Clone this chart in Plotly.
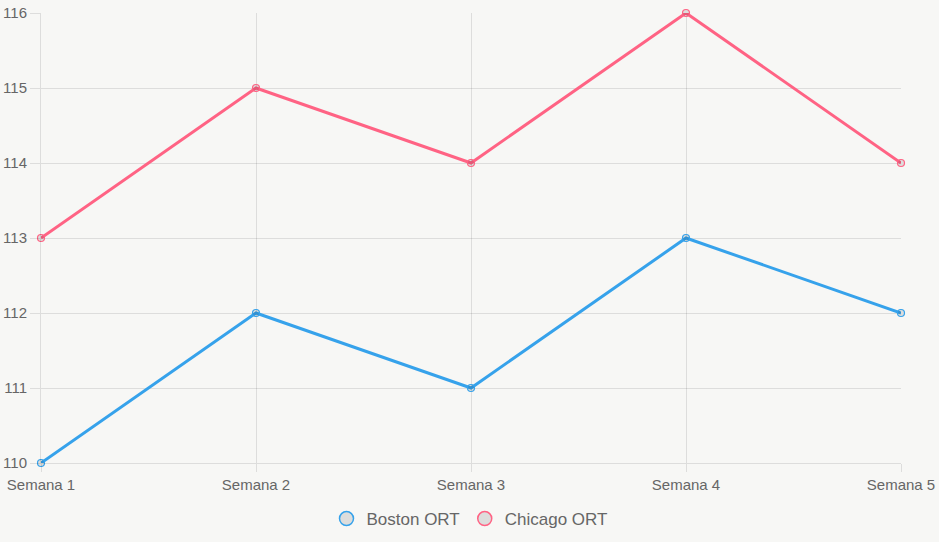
import plotly.graph_objects as go

categories = ["Semana 1", "Semana 2", "Semana 3", "Semana 4", "Semana 5"]
boston = [110, 112, 111, 113, 112]
chicago = [113, 115, 114, 116, 114]
y_ticks = [110, 111, 112, 113, 114, 115, 116]

BLUE = "rgb(54,162,235)"
PINK = "rgb(255,99,132)"
GRID = "rgba(0,0,0,0.1)"
BG = "#f7f7f5"
FILL = "rgba(0,0,0,0.1)"

fig = go.Figure()
for name, vals, col in [("Boston ORT", boston, BLUE), ("Chicago ORT", chicago, PINK)]:
    fig.add_trace(go.Scatter(
        x=categories, y=vals, mode="lines+markers", name=name, showlegend=False,
        line=dict(color=col, width=3),
        marker=dict(size=7, color=FILL, line=dict(color=col, width=1.2)),
        cliponaxis=False,
    ))
for name, col in [("Boston ORT", BLUE), ("Chicago ORT", PINK)]:
    fig.add_trace(go.Scatter(
        x=[None], y=[None], mode="markers", name=name,
        marker=dict(size=14, color="rgba(0,0,0,0.1)", line=dict(color=col, width=1.5)),
    ))

fig.update_layout(
    width=939, height=542,
    margin=dict(l=41, r=38, t=13, b=79, autoexpand=False),
    paper_bgcolor=BG, plot_bgcolor=BG,
    font=dict(family="Liberation Sans, Arial, sans-serif", color="#666", size=15),
    showlegend=True,
    legend=dict(orientation="h", x=0.5, xanchor="center", xref="container",
                y=(542 - 519) / 542, yanchor="middle", yref="container",
                font=dict(size=17, color="#666"), itemwidth=30, bgcolor="rgba(0,0,0,0)"),
    xaxis=dict(
        type="category", range=[0, 4], showgrid=True, gridcolor=GRID, gridwidth=1,
        ticks="outside", ticklen=8, tickcolor=GRID, showline=True, linecolor=GRID,
        zeroline=False, automargin=False, tickfont=dict(size=15, color="#666"),
    ),
    yaxis=dict(
        range=[110, 116], tickvals=y_ticks, showgrid=True, gridcolor=GRID, gridwidth=1,
        ticks="outside", ticklen=10, tickcolor=GRID, showline=True, linecolor=GRID,
        zeroline=False, automargin=False, tickfont=dict(size=15, color="#666"),
    ),
)

fig.write_html("out.html")
